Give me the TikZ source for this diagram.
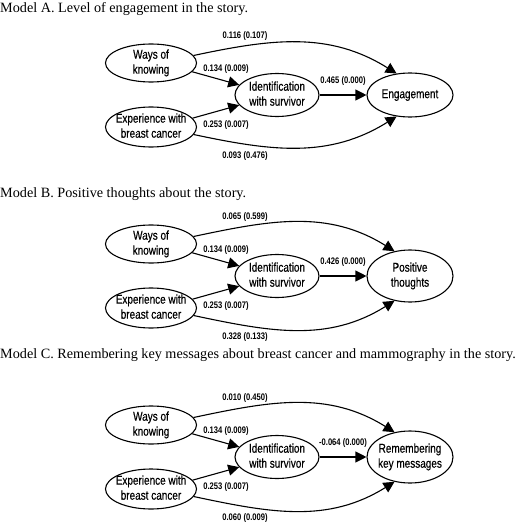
\documentclass[tikz,border=0pt]{standalone}
\usepackage{fontspec}
\setmainfont{Liberation Serif}
\newfontfamily\condfont[FakeStretch=0.78,FakeBold=0.4]{Liberation Sans}
\newfontfamily\coeffont[FakeStretch=0.8]{Liberation Sans}
\usetikzlibrary{shapes.geometric,arrows.meta}

% texte centré dans les ellipses
\newcommand{\vtext}[1]{\makebox[0pt]{\raisebox{-0.25em}{\begin{tabular}{@{}c@{}}#1\end{tabular}}}}

\begin{document}
\begin{tikzpicture}[x=1pt,y=-1pt]
        % Styles pour les variables, les flèches et les coefficients
        \tikzstyle{var} = [draw, line width=1.1pt, ellipse, inner sep=0pt, text height=0pt, text depth=0pt, font=\condfont\fontsize{12.8}{15}\selectfont]
        \tikzstyle{arrow} = [line width=1.1pt, -{Triangle[length=11pt,width=11pt]}]
        \tikzstyle{coef} = [inner sep=0pt, font=\coeffont\bfseries\fontsize{9.5}{11}\selectfont]
        \tikzstyle{titre} = [anchor=base west, inner sep=0pt, font=\fontsize{14.2}{16}\selectfont]

        \useasboundingbox (0,0) rectangle (520,524);

        % Un modèle par ligne : décalage, titre, variable finale, coefficients
        \foreach \dy/\ty/\tit/\out/\oh/\ctop/\cmid/\cbot [count=\m] in {
            0/12.5/{Model A. Level of engagement in the story.}/{Engagement}/44pt/{0.116 (0.107)}/{0.465 (0.000)}/{0.093 (0.476)},
            181/197/{Model B. Positive thoughts about the story.}/{Positive\\thoughts}/52pt/{0.065 (0.599)}/{0.426 (0.000)}/{0.328 (0.133)},
            362/358/{Model C. Remembering key messages about breast cancer and mammography in the story.}/{Remembering\\key messages}/52pt/{0.010 (0.450)}/{-0.064 (0.000)}/{0.060 (0.009)}}{

        % Titre du modèle
        \node[titre] (titre\m) at (0,\ty) {\tit};

        % Variables
        \node[var, minimum width=91pt, minimum height=38pt] (ways\m) at (151,63+\dy) {\vtext{Ways of\\knowing}};
        \node[var, minimum width=91pt, minimum height=40pt] (exp\m) at (151,127+\dy) {\vtext{Experience with\\breast cancer}};
        \node[var, minimum width=84pt, minimum height=43pt] (ident\m) at (277,95+\dy) {\vtext{Identification\\with survivor}};
        \node[var, minimum width=86pt, minimum height=\oh] (out\m) at (410,95+\dy) {\vtext{\out}};

        % Flèches
        \draw[arrow] (ways\m.-12) -- (ident\m.165);
        \draw[arrow] (exp\m.12) -- (ident\m.195);
        \draw[arrow] (ident\m.east) -- (out\m.west);
        \draw[arrow] (ways\m.10) to[out=12,in=148] (out\m.122);
        \draw[arrow] (exp\m.-10) to[out=-12,in=-148] (out\m.-122);

        % Coefficients
        \node[coef] (top\m) at (245,36+\dy) {\ctop};
        \node[coef] (wi\m) at (226,69+\dy) {0.134 (0.009)};
        \node[coef] (io\m) at (343,81+\dy) {\cmid};
        \node[coef] (ei\m) at (226,125+\dy) {0.253 (0.007)};
        \node[coef] (bot\m) at (245,156+\dy) {\cbot};
        }

\end{tikzpicture}
\end{document}
